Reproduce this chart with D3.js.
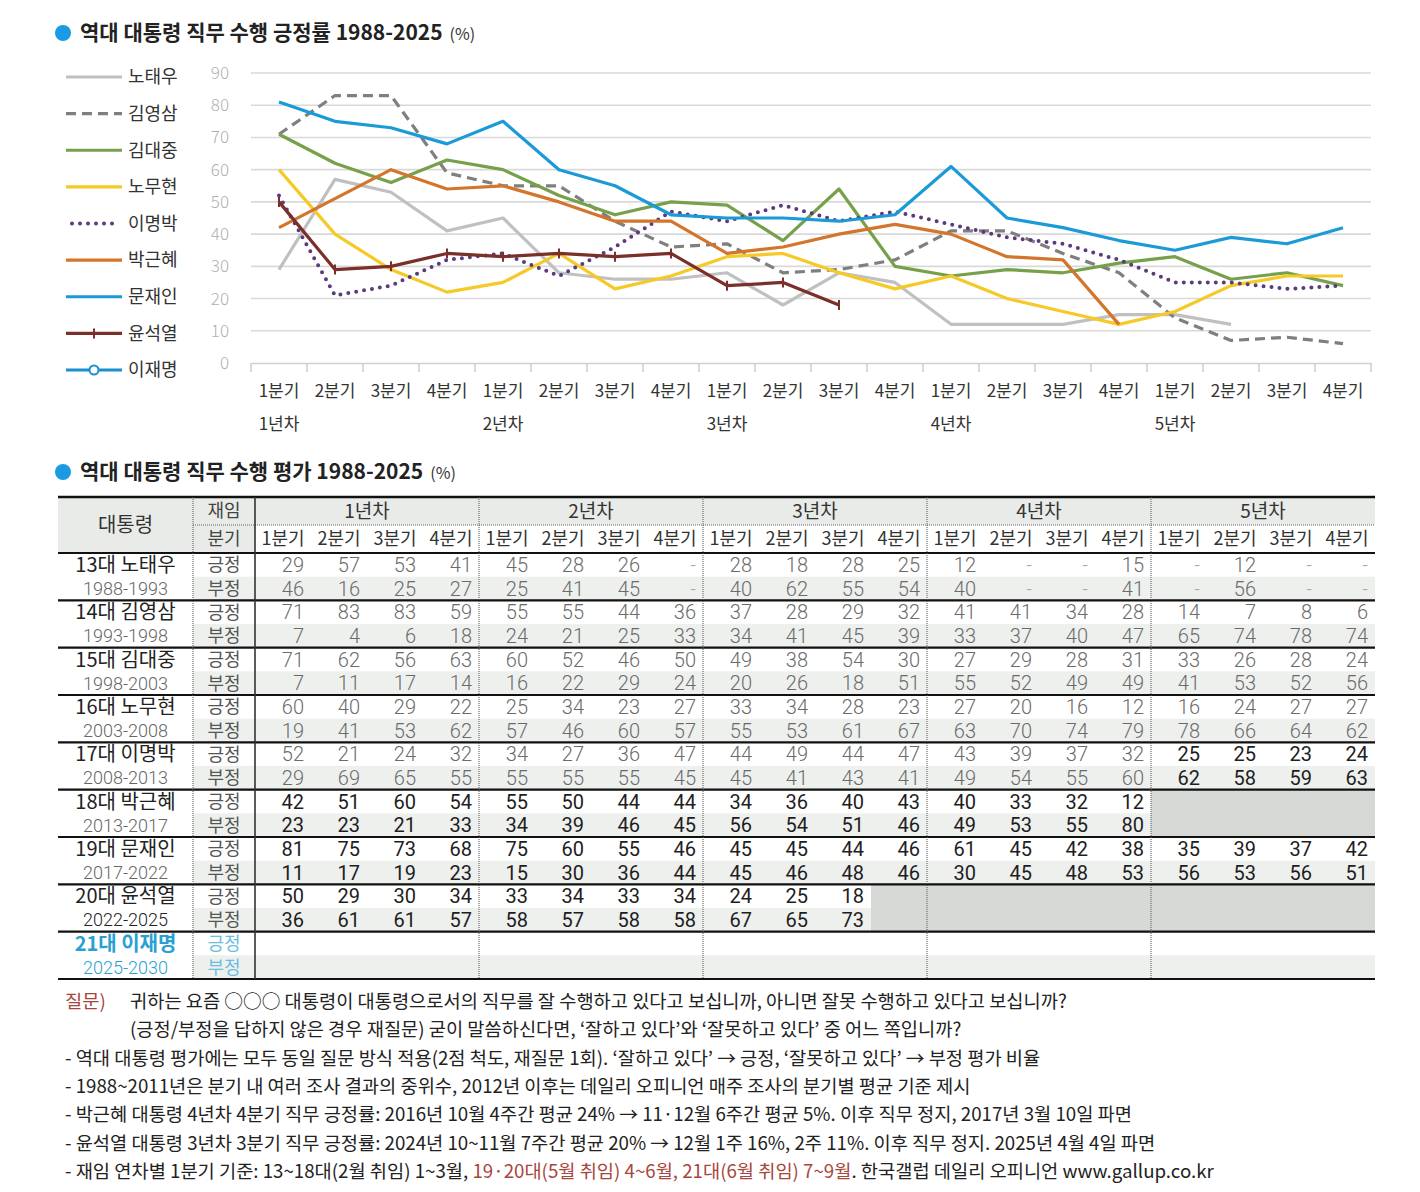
<!DOCTYPE html>
<html>
<head>
<meta charset="utf-8">
<script src="https://cdn.jsdelivr.net/npm/d3@7"></script>
<style>
  body { margin: 0; background: #fff; }
  svg text { font-family: "Noto Sans CJK KR", "Noto Sans", sans-serif; }
  .num { font-family: Roboto, "Noto Sans", sans-serif; }
</style>
</head>
<body>
<svg id="chart" width="1420" height="1192"></svg>
<script>
// ---- data ----
const quarters = ['1분기', '2분기', '3분기', '4분기'];
const years = ['1년차', '2년차', '3년차', '4년차', '5년차'];
const yTicks = [0, 10, 20, 30, 40, 50, 60, 70, 80, 90];

const names = ['노태우', '김영삼', '김대중', '노무현', '이명박', '박근혜', '문재인', '윤석열', '이재명'];
const terms = ['13대', '14대', '15대', '16대', '17대', '18대', '19대', '20대', '21대'];
const spans = ['1988-1993', '1993-1998', '1998-2003', '2003-2008', '2008-2013', '2013-2017', '2017-2022', '2022-2025', '2025-2030'];
const colors = ['#c0c0c0', '#7f7f7f', '#77a04a', '#f5c926', '#5b3a7e', '#d3762b', '#1b9ad8', '#7a2f2a', '#1b90d0'];

// table (null = '-')
const rohPos = [29, 57, 53, 41, 45, 28, 26, null, 28, 18, 28, 25, 12, null, null, 15, null, 12, null, null];
const rohNeg = [46, 16, 25, 27, 25, 41, 45, null, 40, 62, 55, 54, 40, null, null, 41, null, 56, null, null];
const kysPos = [71, 83, 83, 59, 55, 55, 44, 36, 37, 28, 29, 32, 41, 41, 34, 28, 14, 7, 8, 6];
const kysNeg = [7, 4, 6, 18, 24, 21, 25, 33, 34, 41, 45, 39, 33, 37, 40, 47, 65, 74, 78, 74];
const kdjPos = [71, 62, 56, 63, 60, 52, 46, 50, 49, 38, 54, 30, 27, 29, 28, 31, 33, 26, 28, 24];
const kdjNeg = [7, 11, 17, 14, 16, 22, 29, 24, 20, 26, 18, 51, 55, 52, 49, 49, 41, 53, 52, 56];
const rmhPos = [60, 40, 29, 22, 25, 34, 23, 27, 33, 34, 28, 23, 27, 20, 16, 12, 16, 24, 27, 27];
const rmhNeg = [19, 41, 53, 62, 57, 46, 60, 57, 55, 53, 61, 67, 63, 70, 74, 79, 78, 66, 64, 62];
const lmbPos = [52, 21, 24, 32, 34, 27, 36, 47, 44, 49, 44, 47, 43, 39, 37, 32, 25, 25, 23, 24];
const lmbNeg = [29, 69, 65, 55, 55, 55, 55, 45, 45, 41, 43, 41, 49, 54, 55, 60, 62, 58, 59, 63];
const pghPos = [42, 51, 60, 54, 55, 50, 44, 44, 34, 36, 40, 43, 40, 33, 32, 12];
const pghNeg = [23, 23, 21, 33, 34, 39, 46, 45, 56, 54, 51, 46, 49, 53, 55, 80];
const mjiPos = [81, 75, 73, 68, 75, 60, 55, 46, 45, 45, 44, 46, 61, 45, 42, 38, 35, 39, 37, 42];
const mjiNeg = [11, 17, 19, 23, 15, 30, 36, 44, 45, 46, 48, 46, 30, 45, 48, 53, 56, 53, 56, 51];
const ysyPos = [50, 29, 30, 34, 33, 34, 33, 34, 24, 25, 18];
const ysyNeg = [36, 61, 61, 57, 58, 57, 58, 58, 67, 65, 73];
const ljmPos = [];
const ljmNeg = [];

// the chart carries 노태우's missing quarters forward
const rohLine = [29, 57, 53, 41, 45, 28, 26, 26, 28, 18, 28, 25, 12, 12, 12, 15, 15, 12, null, null];

const posRows = [rohPos, kysPos, kdjPos, rmhPos, lmbPos, pghPos, mjiPos, ysyPos, ljmPos];
const negRows = [rohNeg, kysNeg, kdjNeg, rmhNeg, lmbNeg, pghNeg, mjiNeg, ysyNeg, ljmNeg];
const lineRows = [rohLine, kysPos, kdjPos, rmhPos, lmbPos, pghPos, mjiPos, ysyPos, ljmPos];
const shaded = [false, false, false, false, false, true, false, true, false];

const notes = [
  '- 역대 대통령 평가에는 모두 동일 질문 방식 적용(2점 척도, 재질문 1회). ‘잘하고 있다’ → 긍정, ‘잘못하고 있다’ → 부정 평가 비율',
  '- 1988~2011년은 분기 내 여러 조사 결과의 중위수, 2012년 이후는 데일리 오피니언 매주 조사의 분기별 평균 기준 제시',
  '- 박근혜 대통령 4년차 4분기 직무 긍정률: 2016년 10월 4주간 평균 24% → 11·12월 6주간 평균 5%. 이후 직무 정지, 2017년 3월 10일 파면',
  '- 윤석열 대통령 3년차 3분기 직무 긍정률: 2024년 10~11월 7주간 평균 20% → 12월 1주 16%, 2주 11%. 이후 직무 정지. 2025년 4월 4일 파면'
];

// ---- drawing ----
const svg = d3.select('#chart');
const nQ = years.length * quarters.length;
const qIdx = d3.range(nQ);

function title(y, label) {
  svg.append('circle').attr('cx', 63).attr('cy', y - 7).attr('r', 8).attr('fill', '#1a9ae2');
  const t = svg.append('text').attr('x', 80).attr('y', y)
    .attr('font-size', 21).attr('font-weight', 700).attr('fill', '#222').text(label);
  const w = t.node().getComputedTextLength();
  svg.append('text').attr('x', 80 + w + 7).attr('y', y).attr('font-size', 16).attr('fill', '#333').text('(%)');
}
title(40, '역대 대통령 직무 수행 긍정률 1988-2025');
title(479, '역대 대통령 직무 수행 평가 1988-2025');

// line chart
const x = d3.scaleBand().domain(qIdx).range([251, 1371]).padding(0);
const y = d3.scaleLinear().domain([0, 90]).range([363, 73]);

const g = svg.append('g');
g.selectAll('line.grid').data(yTicks.filter(d => d > 0)).join('line')
  .attr('x1', 251).attr('x2', 1371)
  .attr('y1', d => y(d)).attr('y2', d => y(d))
  .attr('stroke', '#d9d9d9').attr('stroke-width', 1.6);

const yAxis = g.append('g').attr('transform', 'translate(229,0)')
  .call(d3.axisLeft(y).tickValues(yTicks).tickSize(0).tickPadding(0));
yAxis.select('.domain').remove();
yAxis.selectAll('text').attr('font-size', 17).attr('fill', '#b0b0b0')
  .attr('font-family', 'Roboto, sans-serif').attr('font-weight', 300);

const xAxis = g.append('g').attr('transform', 'translate(0,363)')
  .call(d3.axisBottom(x).tickFormat(i => quarters[i % 4]).tickSize(0).tickPadding(22));
xAxis.select('.domain').attr('stroke', '#d0d0d0').attr('stroke-width', 1.6);
xAxis.selectAll('text').attr('font-size', 17).attr('fill', '#333');
g.selectAll('line.tick').data(d3.range(nQ + 1)).join('line')
  .attr('x1', i => 251 + i * x.bandwidth()).attr('x2', i => 251 + i * x.bandwidth())
  .attr('y1', 363).attr('y2', 372).attr('stroke', '#d0d0d0').attr('stroke-width', 1.6);
g.selectAll('text.year').data(years).join('text')
  .attr('x', (d, i) => x(i * 4) + x.bandwidth() / 2).attr('y', 430)
  .attr('text-anchor', 'middle').attr('font-size', 17).attr('fill', '#333').text(d => d);

const line = d3.line().x(d => x(d.i) + x.bandwidth() / 2).y(d => y(d.v));
const dash = ['', '10 6', '', '', '0 8', '', '', '', ''];
lineRows.forEach((row, k) => {
  const pts = row.map((v, i) => ({ i, v })).filter(d => d.v != null);
  if (!pts.length) return;
  const p = g.append('path').datum(pts).attr('d', line).attr('fill', 'none')
    .attr('stroke', colors[k]).attr('stroke-width', k === 4 ? 4 : 3.2)
    .attr('stroke-linejoin', 'round');
  if (dash[k]) p.attr('stroke-dasharray', dash[k]).attr('stroke-linecap', k === 4 ? 'round' : 'butt');
  if (k === 7) {
    g.selectAll(null).data(pts).join('line')
      .attr('x1', d => x(d.i) + x.bandwidth() / 2).attr('x2', d => x(d.i) + x.bandwidth() / 2)
      .attr('y1', d => y(d.v) - 5).attr('y2', d => y(d.v) + 5)
      .attr('stroke', colors[k]).attr('stroke-width', 2);
  }
});
// 문재인 sits on top in the picture
g.selectAll('path').filter(function () { return d3.select(this).attr('stroke') === colors[6]; }).raise();

// legend
const lg = svg.append('g');
const ly = d3.scaleLinear().domain([0, 8]).range([77, 370]);
names.forEach((n, k) => {
  const yy = ly(k);
  const l = lg.append('line').attr('x1', 66).attr('x2', 122).attr('y1', yy).attr('y2', yy)
    .attr('stroke', colors[k]).attr('stroke-width', k === 4 ? 4 : 3.2);
  if (dash[k]) l.attr('stroke-dasharray', k === 4 ? '0 8' : '10 6').attr('stroke-linecap', k === 4 ? 'round' : 'butt');
  if (k === 4) l.attr('x1', 72).attr('x2', 120);
  if (k === 7) lg.append('line').attr('x1', 94).attr('x2', 94).attr('y1', yy - 5).attr('y2', yy + 5)
    .attr('stroke', colors[k]).attr('stroke-width', 2);
  if (k === 8) lg.append('circle').attr('cx', 94).attr('cy', yy).attr('r', 4.5)
    .attr('fill', '#fff').attr('stroke', colors[k]).attr('stroke-width', 2);
  lg.append('text').attr('x', 128).attr('y', yy).attr('dy', '0.35em')
    .attr('font-size', 18).attr('fill', '#333').text(n);
});

// table
const T = { left: 58, nameR: 193, qL: 255, right: 1375, top: 497, h1: 525, h2: 553, bottom: 979 };
const cx = d3.scaleBand().domain(qIdx).range([T.qL, T.right]);
const rows = d3.range(names.length * 2);
const ry = d3.scaleBand().domain(rows).range([T.h2, T.bottom]);
const tb = svg.append('g');

tb.append('rect').attr('x', T.left).attr('y', T.top).attr('width', T.qL - T.left).attr('height', T.h2 - T.top).attr('fill', '#e9ebe9');
tb.append('rect').attr('x', T.qL).attr('y', T.top).attr('width', T.right - T.qL).attr('height', T.h1 - T.top).attr('fill', '#e9ebe9');
tb.selectAll('rect.neg').data(rows.filter(r => r % 2 === 1)).join('rect')
  .attr('x', T.nameR).attr('y', r => ry(r)).attr('width', T.right - T.nameR).attr('height', ry.bandwidth())
  .attr('fill', '#eef0ee');
// shaded (out of office) cells
names.forEach((n, k) => {
  if (!shaded[k]) return;
  const start = posRows[k].length;
  tb.append('rect').attr('x', cx(start)).attr('y', ry(k * 2))
    .attr('width', T.right - cx(start)).attr('height', ry.bandwidth() * 2).attr('fill', '#d6d9d6');
});

// header text
tb.append('text').attr('x', (T.left + T.nameR) / 2).attr('y', (T.top + T.h2) / 2).attr('dy', '0.35em')
  .attr('text-anchor', 'middle').attr('font-size', 20).attr('fill', '#333').text('대통령');
tb.append('text').attr('x', (T.nameR + T.qL) / 2).attr('y', (T.top + T.h1) / 2).attr('dy', '0.35em')
  .attr('text-anchor', 'middle').attr('font-size', 18).attr('fill', '#444').text('재임');
tb.append('text').attr('x', (T.nameR + T.qL) / 2).attr('y', (T.h1 + T.h2) / 2).attr('dy', '0.35em')
  .attr('text-anchor', 'middle').attr('font-size', 18).attr('fill', '#444').text('분기');
tb.selectAll('text.yr').data(years).join('text')
  .attr('x', (d, i) => cx(i * 4) + cx.bandwidth() * 2).attr('y', (T.top + T.h1) / 2).attr('dy', '0.35em')
  .attr('text-anchor', 'middle').attr('font-size', 19).attr('fill', '#333').text(d => d);
tb.selectAll('text.q').data(qIdx).join('text')
  .attr('x', i => cx(i) + cx.bandwidth() / 2).attr('y', (T.h1 + T.h2) / 2).attr('dy', '0.35em')
  .attr('text-anchor', 'middle').attr('font-size', 18).attr('fill', '#333').text(i => quarters[i % 4]);

// president rows
const strong = (k, i) => (k >= 5 && k <= 7) || (k === 4 && i >= 16);
names.forEach((n, k) => {
  const y0 = ry(k * 2), y1 = ry(k * 2 + 1), bh = ry.bandwidth();
  const blue = k === 8;
  tb.append('text').attr('x', (T.left + T.nameR) / 2).attr('y', y0 + bh / 2).attr('dy', '0.36em')
    .attr('text-anchor', 'middle').attr('font-size', 20)
    .attr('font-weight', blue ? 700 : 400).attr('fill', blue ? '#2a9fd3' : '#222')
    .text(terms[k] + ' ' + n);
  tb.append('text').attr('class', 'num').attr('x', (T.left + T.nameR) / 2).attr('y', y1 + bh / 2).attr('dy', '0.36em')
    .attr('text-anchor', 'middle').attr('font-size', 18).attr('font-weight', 300)
    .attr('fill', blue ? '#2a9fd3' : (k === 7 ? '#222' : '#666')).text(spans[k]);
  tb.append('text').attr('x', (T.nameR + T.qL) / 2).attr('y', y0 + bh / 2).attr('dy', '0.36em')
    .attr('text-anchor', 'middle').attr('font-size', 18).attr('fill', blue ? '#6bbde0' : '#555').text('긍정');
  tb.append('text').attr('x', (T.nameR + T.qL) / 2).attr('y', y1 + bh / 2).attr('dy', '0.36em')
    .attr('text-anchor', 'middle').attr('font-size', 18).attr('fill', blue ? '#6bbde0' : '#555').text('부정');
  [posRows[k], negRows[k]].forEach((row, j) => {
    const yy = j === 0 ? y0 : y1;
    tb.selectAll(null).data(row.map((v, i) => ({ v, i }))).join('text')
      .attr('class', 'num')
      .attr('x', d => cx(d.i) + cx.bandwidth() - 7).attr('y', yy + bh / 2).attr('dy', '0.36em')
      .attr('text-anchor', 'end').attr('font-size', 20)
      .attr('font-weight', d => strong(k, d.i) ? 400 : 300)
      .attr('fill', d => d.v == null ? '#aaa' : (strong(k, d.i) ? '#1e1e1e' : '#6a6a6a'))
      .text(d => d.v == null ? '-' : d.v);
  });
});

// table rules
tb.append('line').attr('x1', T.left).attr('x2', T.right).attr('y1', T.top).attr('y2', T.top)
  .attr('stroke', '#111').attr('stroke-width', 2.5);
tb.append('line').attr('x1', T.nameR).attr('x2', T.right).attr('y1', T.h1).attr('y2', T.h1)
  .attr('stroke', '#666').attr('stroke-width', 1).attr('stroke-dasharray', '1 1');
tb.selectAll('line.hr').data(d3.range(names.length + 1)).join('line')
  .attr('x1', T.left).attr('x2', T.right)
  .attr('y1', k => T.h2 + k * ry.bandwidth() * 2).attr('y2', k => T.h2 + k * ry.bandwidth() * 2)
  .attr('stroke', '#111').attr('stroke-width', 2.2);
tb.append('line').attr('x1', T.nameR).attr('x2', T.nameR).attr('y1', T.top).attr('y2', T.bottom)
  .attr('stroke', '#555').attr('stroke-width', 1).attr('stroke-dasharray', '1 1');
tb.append('line').attr('x1', T.qL).attr('x2', T.qL).attr('y1', T.top).attr('y2', T.bottom)
  .attr('stroke', '#333').attr('stroke-width', 1.6);
tb.selectAll('line.vr').data([1, 2, 3, 4]).join('line')
  .attr('x1', i => cx(i * 4)).attr('x2', i => cx(i * 4)).attr('y1', T.top).attr('y2', T.bottom)
  .attr('stroke', '#555').attr('stroke-width', 1).attr('stroke-dasharray', '1 1');

// notes
const nt = svg.append('g').attr('font-size', 18.7).attr('fill', '#222');
nt.append('text').attr('x', 65).attr('y', 1008).attr('fill', '#a8463e').text('질문)');
nt.append('text').attr('x', 130).attr('y', 1008)
  .text('귀하는 요즘 ○○○ 대통령이 대통령으로서의 직무를 잘 수행하고 있다고 보십니까, 아니면 잘못 수행하고 있다고 보십니까?');
nt.append('text').attr('x', 130).attr('y', 1036)
  .text('(긍정/부정을 답하지 않은 경우 재질문) 굳이 말씀하신다면, ‘잘하고 있다’와 ‘잘못하고 있다’ 중 어느 쪽입니까?');
nt.selectAll('text.n').data(notes).join('text')
  .attr('x', 65).attr('y', (d, i) => 1065 + i * 28.2).text(d => d);
const last = nt.append('text').attr('x', 65).attr('y', 1178);
last.append('tspan').text('- 재임 연차별 1분기 기준: 13~18대(2월 취임) 1~3월, ');
last.append('tspan').attr('fill', '#a8463e').text('19·20대(5월 취임) 4~6월, 21대(6월 취임) 7~9월');
last.append('tspan').text('. 한국갤럽 데일리 오피니언 www.gallup.co.kr');
</script>
</body>
</html>
